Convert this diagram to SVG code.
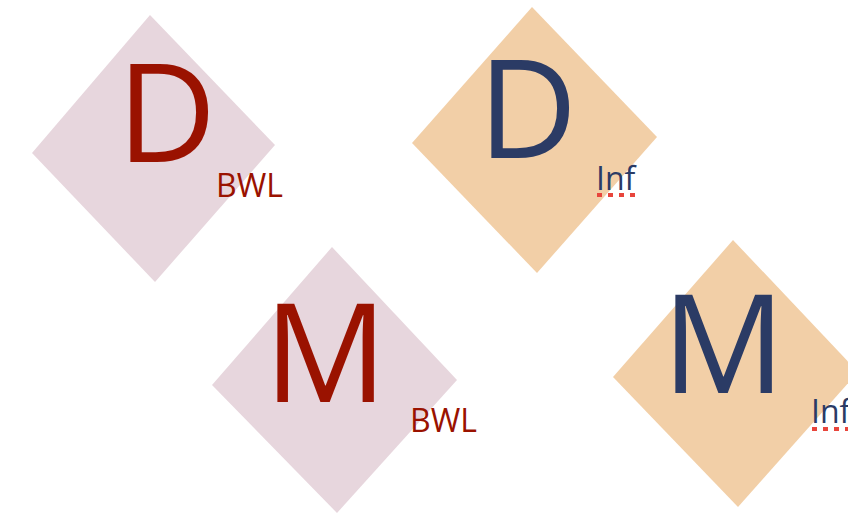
<svg xmlns="http://www.w3.org/2000/svg" width="848" height="518" viewBox="0 0 848 518">
<style>
.bwl{fill:#e7d6dd}
.inf{fill:#f2cfa7}
.big{font-family:"Open Sans","Noto Sans",sans-serif;font-size:137px}
.sub{font-family:"Open Sans","Noto Sans",sans-serif;font-size:32px}
.red{fill:#9a1200}
.blue{fill:#2b3b65}
.sq{stroke:#e8453c;stroke-width:4;stroke-dasharray:5 6;fill:none}
</style>
<rect width="848" height="518" fill="#ffffff"/>
<g id="node-d-bwl">
<polygon class="bwl" points="150,15 275,145 155,282 32,153"/>
<text class="big red" x="117" y="162">D</text>
<text class="sub red" x="216" y="197">BWL</text>
</g>
<g id="node-d-inf">
<polygon class="inf" points="532,7 657,137 537,273 412,143"/>
<text class="big blue" x="478" y="158">D</text>
<text class="sub blue" x="596" y="190">Inf</text>
<line class="sq" x1="597" y1="195" x2="636" y2="195"/>
</g>
<g id="node-m-bwl">
<polygon class="bwl" points="332,247 457,380 337,513 212,385"/>
<text class="big red" x="264" y="402">M</text>
<text class="sub red" x="410" y="432">BWL</text>
</g>
<g id="node-m-inf">
<polygon class="inf" points="733,240 858,372 738,507 613,377"/>
<text class="big blue" x="662" y="393">M</text>
<text class="sub blue" x="811" y="423">Inf</text>
<line class="sq" x1="812" y1="429" x2="851" y2="429"/>
</g>
<g id="connectors"></g>
</svg>
